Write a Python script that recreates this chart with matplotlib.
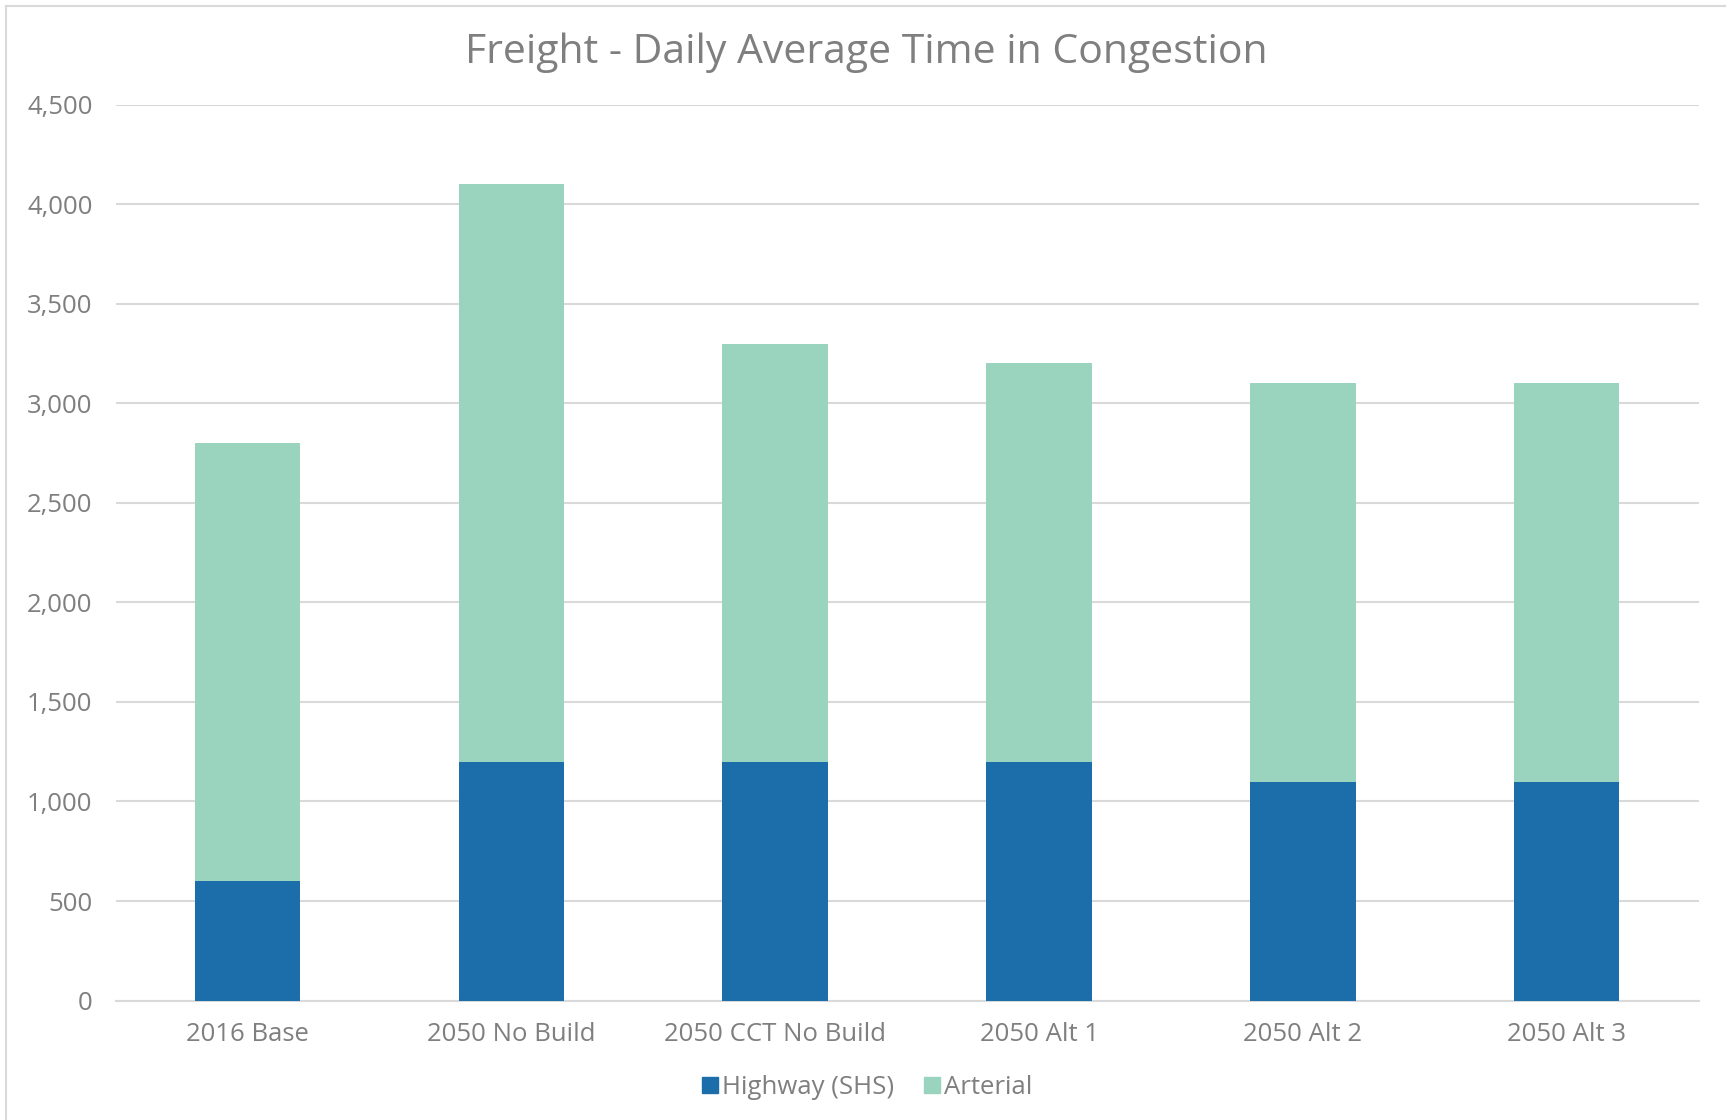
import matplotlib
matplotlib.use("Agg")
import matplotlib.pyplot as plt
from matplotlib.lines import Line2D
from matplotlib.ticker import FuncFormatter
import numpy as np

categories = ["2016 Base", "2050 No Build", "2050 CCT No Build", "2050 Alt 1", "2050 Alt 2", "2050 Alt 3"]
highway = [600, 1200, 1200, 1200, 1100, 1100]
arterial = [2200, 2900, 2100, 2000, 2000, 2000]
yticks = [0, 500, 1000, 1500, 2000, 2500, 3000, 3500, 4000, 4500]

c_high = "#1B6EA9"
c_art = "#9AD4BF"
txt = "#7F7F7F"
grid = "#D9D9D9"

plt.rcParams["font.family"] = ["Open Sans", "DejaVu Sans"]

W, H = 1726, 1120
fig = plt.figure(figsize=(W / 100, H / 100), dpi=100)
ax = fig.add_axes([115.6 / W, 1 - 1000.6 / H, (1698.6 - 115.6) / W, (1000.6 - 104.6) / H])

x = np.arange(len(categories))
ax.bar(x, highway, width=0.4, color=c_high, label="Highway (SHS)", zorder=3)
ax.bar(x, arterial, width=0.4, bottom=highway, color=c_art, label="Arterial", zorder=3)

ax.set_xlim(-0.5, len(categories) - 0.5)
ax.set_ylim(0, 4500)
ax.set_yticks(yticks)
ax.yaxis.set_major_formatter(FuncFormatter(lambda v, p: f"{int(v):,}"))
ax.set_xticks(x)
ax.set_xticklabels(categories)
ax.grid(axis="y", color=grid, linewidth=1.5, zorder=0)
for s in ["top", "right", "left"]:
    ax.spines[s].set_visible(False)
ax.spines["bottom"].set_color(grid)
ax.spines["bottom"].set_linewidth(1.5)
ax.tick_params(axis="both", length=0, labelsize=18.5, labelcolor=txt)
ax.tick_params(axis="y", pad=16.5)
ax.tick_params(axis="x", pad=15.5)

fig.text(866 / W, 1 - 53 / H, "Freight - Daily Average Time in Congestion",
         ha="center", va="center", fontsize=29.5, color=txt)

handles = [Line2D([], [], marker="s", linestyle="none", markersize=11, color=c_high),
           Line2D([], [], marker="s", linestyle="none", markersize=11, color=c_art)]
fig.legend(handles, ["Highway (SHS)", "Arterial"], loc="center", bbox_to_anchor=(866 / W, 1 - 1087.5 / H),
           ncol=2, frameon=False, fontsize=18.5, labelcolor=txt, handletextpad=0.05, columnspacing=1.1,
           handlelength=0.8)

fig.add_artist(Line2D([6 / W, 1], [1 - 6 / H, 1 - 6 / H], color=grid, linewidth=1.5, transform=fig.transFigure))
fig.add_artist(Line2D([6 / W, 6 / W], [1 - 6 / H, 0], color=grid, linewidth=1.5, transform=fig.transFigure))

fig.savefig("out.png", dpi=100, facecolor="white")
